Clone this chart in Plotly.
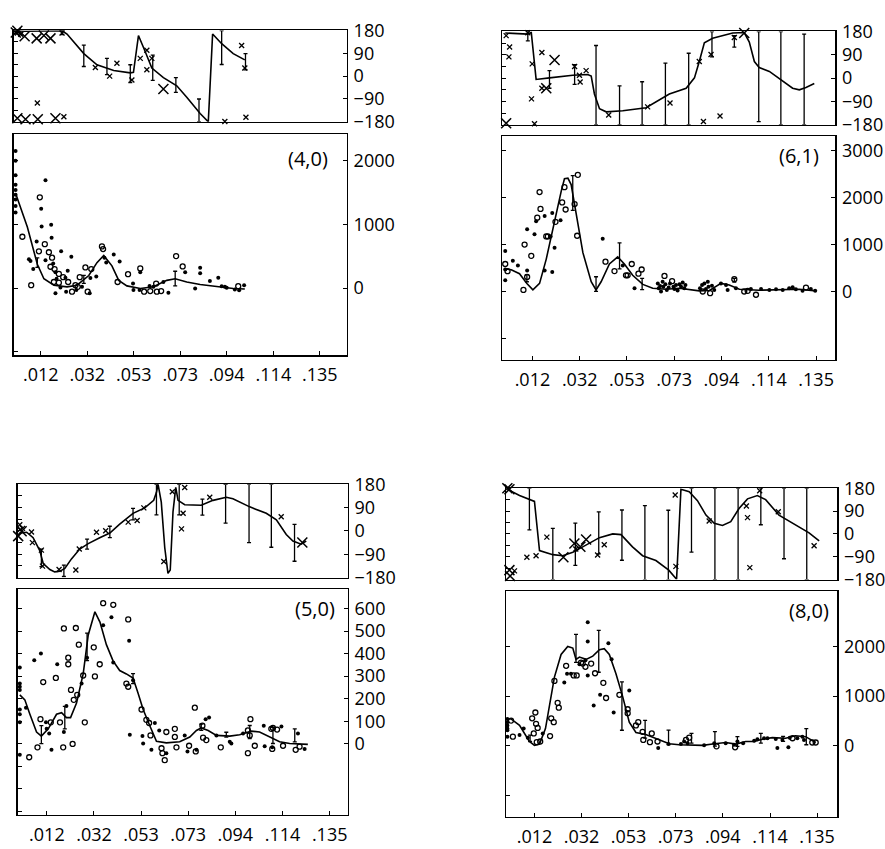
import plotly.graph_objects as go

# ---------------- shared tick definitions ----------------
x_tickvals = [0.0118, 0.0323, 0.0528, 0.0733, 0.0938, 0.1144, 0.1349]
x_ticktext = [".012", ".032", ".053", ".073", ".094", ".114", ".135"]
phase_label_vals = [-180, -90, 0, 90, 180]
phase_minor_vals = [-180, -135, -90, -45, 0, 45, 90, 135, 180]

# ---------------- panel A: (4,0) ----------------
A_label = "(4,0)"
A_xrange = [0.0, 0.1467]
A_amp_range = [-1050, 2411]
A_amp_labels = [0, 1000, 2000]
A_amp_ticks = [-1000, 0, 1000, 2000]

A_amp_curve_x = [0.0007, 0.0059, 0.0103, 0.0132, 0.0176, 0.0234, 0.0278, 0.0330, 0.0366, 0.0396, 0.0432,
                 0.0462, 0.0498, 0.0557, 0.0615, 0.0674, 0.0711, 0.0762, 0.0821, 0.0894, 0.0967, 0.1018]
A_amp_curve_y = [1490, 958, 375, 147, 46, 20, 46, 198, 400, 512, 350, 122, 35, -5, 20, 122, 147, 96, 56, 20, -5, -15]
A_amp_err_x = [0.0103, 0.0308, 0.0711]
A_amp_err_y = [400, 137, 150]
A_amp_err = [75, 63, 115]
A_amp_open_x = [0.0037, 0.0076, 0.0110, 0.0114, 0.0136, 0.0154, 0.0161, 0.0168, 0.0179, 0.0176, 0.0198, 0.0198,
                0.0217, 0.0239, 0.0256, 0.0271, 0.0281, 0.0290, 0.0315, 0.0325, 0.0341, 0.0388, 0.0393, 0.0457,
                0.0503, 0.0557, 0.0574, 0.0601, 0.0627, 0.0630, 0.0649, 0.0715, 0.0744, 0.0989]
A_amp_open_y = [806, 46, 578, 1425, 690, 563, 335, 477, 299, 96, 223, 86,
                172, 96, -56, 46, 20, 172, 324, -56, 299, 654, 613, 96,
                218, 309, -56, -46, 71, -56, -46, 502, 340, 30]
A_amp_fill_x = [0.0007, 0.0007, 0.0007, 0.0007, 0.0007, 0.0007, 0.0007, 0.0007, 0.0007,
                0.0066, 0.0073, 0.0085, 0.0100, 0.0120, 0.0122, 0.0139, 0.0139, 0.0164, 0.0166, 0.0173,
                0.0183, 0.0188, 0.0183, 0.0205, 0.0208, 0.0227, 0.0230, 0.0237, 0.0253, 0.0275, 0.0300,
                0.0334, 0.0337, 0.0363, 0.0399, 0.0407, 0.0440, 0.0466, 0.0525, 0.0527, 0.0554, 0.0557,
                0.0598, 0.0615, 0.0659, 0.0681, 0.0755, 0.0799, 0.0821, 0.0821, 0.0864, 0.0901, 0.0916,
                0.0930, 0.0938, 0.0974, 0.0993, 0.1015]
A_amp_fill_y = [2150, 2000, 1770, 1620, 1540, 1465, 1390, 1290, 1185,
                451, 426, 299, 730, 1247, 968, 1693, 436, 994, 791, 385,
                248, 147, -81, 10, 578, 162, -56, 274, 492, -30, 20,
                -81, 157, 183, 477, 400, 527, 416, 71, -30, -30, 248,
                35, 20, 96, -71, 248, -5, 319, 233, 112, 162, 30,
                20, 5, -20, -35, 46]

A_ph_curve_x = [0.0007, 0.0047, 0.0212, 0.0234, 0.0308, 0.0366, 0.0440, 0.0513, 0.0527, 0.0549, 0.0579,
                0.0608, 0.0659, 0.0718, 0.0762, 0.0821, 0.0857, 0.0876, 0.0916, 0.0967, 0.1018]
A_ph_curve_y = [179, 177, 179, 166, 89, 45, 22, 13, 15, 160, 96, 32, -6, -38, -83, -147, -180, 166, 128, 89, 64]
A_ph_err_x = [0.0212, 0.0308, 0.0410, 0.0513, 0.0612, 0.0714, 0.0816, 0.0916, 0.1021]
A_ph_err_y = [172, 80, 38, 10, 33, -35, -135, 113, 57]
A_ph_err = [8, 42, 32, 35, 50, 29, 45, 67, 32]
A_ph_small_x = [0.0212, 0.0103, 0.0220, 0.0359, 0.0422, 0.0454, 0.0520, 0.0557, 0.0586, 0.0608, 0.0586,
                0.0930, 0.1004, 0.1018, 0.1023, 0.0015, 0.0030]
A_ph_small_y = [170, -106, -160, 34, 0, 51, -15, 70, 102, 70, 25, -179, 121, 32, -162, 170, 165]
A_ph_big_x = [0.0015, 0.0047, 0.0100, 0.0132, 0.0161, 0.0015, 0.0051, 0.0105, 0.0183, 0.0659, 0.0008]
A_ph_big_y = [179, 157, 149, 160, 149, -166, -170, -170, -166, -51, 172]

# ---------------- panel B: (6,1) ----------------
B_label = "(6,1)"
B_xrange = [-0.0012, 0.1431]
B_amp_range = [-1450, 3310]
B_amp_labels = [0, 1000, 2000, 3000]
B_amp_ticks = [-1000, 0, 1000, 2000, 3000]

B_amp_curve_x = [0.0, 0.0026, 0.0062, 0.0094, 0.0120, 0.0149, 0.0178, 0.0214, 0.0243, 0.0257, 0.0272, 0.0286,
                 0.0308, 0.0337, 0.0373, 0.0394, 0.0416, 0.0452, 0.0488, 0.0517, 0.0553, 0.0597, 0.0640,
                 0.0698, 0.0756, 0.0842, 0.0886, 0.0936, 0.0972, 0.1016, 0.1102, 0.1189, 0.1276, 0.1348]
B_amp_curve_y = [490, 469, 386, 179, 41, 179, 697, 1525, 2146, 2408, 2422, 2284,
                 1663, 835, 214, 41, 214, 593, 745, 593, 352, 159, 76,
                 55, 76, 21, 28, 179, 145, 55, 35, 41, 55, 21]
B_amp_err_x = [0.0094, 0.0293, 0.0394, 0.0496, 0.0594, 0.0994]
B_amp_err_y = [290, 2104, 166, 766, 166, 248]
B_amp_err = [75, 370, 155, 276, 120, 40]
B_amp_open_x = [0.0, 0.0010, 0.0079, 0.0084, 0.0095, 0.0113, 0.0139, 0.0149, 0.0153, 0.0178, 0.0185, 0.0218,
                0.0247, 0.0257, 0.0262, 0.0301, 0.0315, 0.0312, 0.0435, 0.0474, 0.0524, 0.0531, 0.0549,
                0.0578, 0.0592, 0.0691, 0.0724, 0.0857, 0.0889, 0.0994, 0.1037, 0.1052, 0.1088, 0.1305]
B_amp_open_y = [593, 440, 41, 1007, 317, 766, 1580, 2125, 1766, 1180, 1180, 1490,
                1904, 2229, 1753, 1870, 2491, 1194, 642, 442, 352, 352, 593,
                386, 476, 338, 228, 7, -28, 269, 7, 21, -62, 90]
B_amp_fill_x = [0.0, 0.0, 0.0, 0.0033, 0.0055, 0.0095, 0.0095, 0.0127, 0.0134, 0.0171, 0.0171, 0.0197,
                0.0204, 0.0204, 0.0214, 0.0240, 0.0423, 0.0510, 0.0561,
                0.0662, 0.0666, 0.0672, 0.0676, 0.0683, 0.0686, 0.0695, 0.0701, 0.0709, 0.0715, 0.0730,
                0.0734, 0.0741, 0.0748, 0.0756, 0.0763, 0.0770, 0.0777, 0.0782,
                0.0845, 0.0854, 0.0864, 0.0871, 0.0879, 0.0882, 0.0897, 0.0907,
                0.0936, 0.0958, 0.0965, 0.1001, 0.1066, 0.1110, 0.1146, 0.1175, 0.1204, 0.1232, 0.1247,
                0.1261, 0.1290, 0.1326, 0.1345]
B_amp_fill_y = [869, 476, 248, 662, 559, 1332, 455, 1228, 1504, 1614, 455, 1180,
                1677, 421, 938, 1525, 1132, 559, 76,
                179, 76, 124, 7, 214, 110, 159, 41, 90, 179, 110,
                62, 145, 28, 159, 110, 200, 76, 145,
                76, 145, 179, 62, 214, 110, 131, 41,
                179, 145, 41, 76, 62, 62, 41, 55, 41, 76, 97,
                55, 21, 62, 21]

B_ph_curve_x = [0.0, 0.0098, 0.0113, 0.0134, 0.0192, 0.0293, 0.0358, 0.0373, 0.0387, 0.0409, 0.0438, 0.0510,
                0.0611, 0.0655, 0.0712, 0.0785, 0.0821, 0.0842, 0.0864, 0.0900, 0.0987, 0.1037, 0.1059,
                0.1081, 0.1102, 0.1146, 0.1204, 0.1247, 0.1276, 0.1305, 0.1341]
B_ph_curve_y = [174, 170, 176, -5, 1, 11, 14, 8, -61, -118, -130, -126,
                -114, -92, -61, -39, 1, 64, 136, 154, 174, 176, 139,
                64, 41, 26, -11, -39, -45, -36, -21]
B_ph_err_x = [0.0098, 0.0192, 0.0301, 0.0394, 0.0496, 0.0594, 0.0695, 0.0796, 0.0897, 0.0994, 0.1100, 0.1196, 0.1297]
B_ph_err_y = [162, -5, 14, -27, -105, -97, -61, -42, 131, 142, 6, 0, -5]
B_ph_err = [18, 34, 38, 153, 75, 83, 119, 138, 49, 22, 174, 180, 175]
B_ph_small_x = [0.0004, 0.0019, 0.0016, 0.0117, 0.0114, 0.0127, 0.0159, 0.0159, 0.0301, 0.0322, 0.0325,
                0.0351, 0.0449, 0.0618, 0.0715, 0.0842, 0.0860, 0.0893, 0.0932, 0.0994, 0.0098]
B_ph_small_y = [164, 120, 82, 55, -80, -176, 99, -39, 45, 11, -15, 29, -142, -111, -96, 64, -167, 91, -146,
                157, 175]
B_ph_big_x = [0.0004, 0.0214, 0.0178, 0.1037]
B_ph_big_y = [-174, 70, -39, 174]

# ---------------- panel C: (5,0) ----------------
C_label = "(5,0)"
C_xrange = [-0.0008, 0.1427]
C_amp_range = [-315, 686]
C_amp_labels = [0, 100, 200, 300, 400, 500, 600]
C_amp_ticks = [-300, -200, -100, 0, 100, 200, 300, 400, 500, 600]

C_amp_curve_x = [0.0, 0.0022, 0.0044, 0.0073, 0.0094, 0.0124, 0.0160, 0.0182, 0.0203, 0.0221, 0.0247, 0.0276,
                 0.0298, 0.0327, 0.0349, 0.0377, 0.0406, 0.0435, 0.0464, 0.0493, 0.0515, 0.0537, 0.0566,
                 0.0595, 0.0638, 0.0696, 0.0740, 0.0769, 0.0790, 0.0820, 0.0856, 0.0914, 0.0957, 0.1008,
                 0.1044, 0.1088, 0.1131, 0.1175, 0.1218, 0.1254]
C_amp_curve_y = [217, 195, 131, 52, 34, 66, 131, 138, 116, 116, 181, 310,
                 483, 586, 540, 440, 368, 325, 310, 292, 224, 152, 80,
                 11, 4, 9, 30, 59, 70, 59, 37, 34, 40, 56,
                 52, 30, 9, 1, 0, -3]
C_amp_err_x = [0.0094, 0.0196, 0.0293, 0.0493, 0.0790, 0.0899, 0.1001, 0.1102, 0.1197]
C_amp_err_y = [40, 116, 430, 289, 73, 40, 52, 37, 37]
C_amp_err = [40, 50, 61, 22, 14, 11, 29, 36, 29]
C_amp_open_x = [0.0041, 0.0077, 0.0090, 0.0102, 0.0135, 0.0157, 0.0175, 0.0189, 0.0192, 0.0211, 0.0211,
                0.0223, 0.0230, 0.0235, 0.0244, 0.0250, 0.0257, 0.0276, 0.0283, 0.0322, 0.0327, 0.0348,
                0.0363, 0.0407, 0.0472, 0.0464, 0.0472, 0.0530, 0.0551, 0.0563, 0.0569, 0.0617, 0.0621,
                0.0631, 0.0638, 0.0675, 0.0675, 0.0682, 0.0737, 0.0762, 0.0766, 0.0795, 0.0798, 0.0812,
                0.0875, 0.0993, 0.0993, 0.1004, 0.1001, 0.1023, 0.1095, 0.1102, 0.1099, 0.1120, 0.1146,
                0.1201, 0.1218]
C_amp_open_y = [-60, -16, 109, 274, 95, 292, 95, -16, 512, 382, 353,
                239, -1, 195, 514, 217, 440, 303, 95, 428, 299, 353,
                624, 617, 552, 267, 253, 152, 106, 92, 37, -20, -42,
                -73, 52, 66, 30, -16, -9, 160, -34, 80, 27, 16,
                -16, 59, -42, 109, 37, -9, 66, 70, -23, 63, -9,
                -27, -13]
C_amp_fill_x = [0.0, 0.0, 0.0, 0.0, 0.0, 0.0, 0.0, 0.0, 0.0027, 0.0063, 0.0092, 0.0114, 0.0117, 0.0128,
                0.0138, 0.0163, 0.0192, 0.0203, 0.0269, 0.0293, 0.0363, 0.0399, 0.0407, 0.0476, 0.0479,
                0.0493, 0.0534, 0.0537, 0.0573, 0.0588, 0.0607, 0.0638, 0.0718, 0.0730, 0.0769, 0.0809,
                0.0824, 0.0856, 0.0914, 0.0921, 0.0972, 0.1062, 0.1066, 0.1099, 0.1139, 0.1211, 0.1240]
C_amp_fill_y = [339, 267, 253, 239, 152, 131, 95, -49, 160, 371, 401, 95, 66, 45,
                -27, 353, 52, 167, 267, 382, 526, 562, 361, 457, 40,
                282, 34, 1, -27, 92, 59, -42, 37, -34, -27, 109,
                116, 37, 9, 1, 45, 80, -11, -16, 76, 45, -23]

C_ph_curve_x = [0.0, 0.0030, 0.0058, 0.0087, 0.0102, 0.0131, 0.0152, 0.0174, 0.0196, 0.0225, 0.0261, 0.0298,
                0.0348, 0.0392, 0.0435, 0.0493, 0.0544, 0.0583, 0.0595, 0.0602, 0.0616, 0.0631, 0.0645,
                0.0655, 0.0667, 0.0679, 0.0689, 0.0718, 0.0790, 0.0841, 0.0899, 0.0928, 0.1001, 0.1073,
                0.1117, 0.1160, 0.1189, 0.1225, 0.1247]
C_ph_curve_y = [-8, -5, -26, -76, -126, -149, -158, -156, -145, -108, -70, -49,
                -26, -8, 26, 68, 89, 118, 149, 180, 111, -64, -164,
                -151, 74, 168, 118, 101, 99, 118, 130, 124, 93, 68,
                43, -14, -39, -51, -39]
C_ph_err_x = [0.0094, 0.0192, 0.0293, 0.0392, 0.0493, 0.0595, 0.0694, 0.0795, 0.0896, 0.0998, 0.1095, 0.1196]
C_ph_err_y = [-104, -154, -51, -4, 65, 121, 121, 92, 105, 68, 59, -46]
C_ph_err = [34, 22, 19, 22, 22, 59, 59, 31, 75, 113, 122, 71]
C_ph_small_x = [0.0, 0.0003, 0.0012, 0.0051, 0.0055, 0.0094, 0.0099, 0.0171, 0.0244, 0.0259, 0.0334, 0.0374,
                0.0472, 0.0511, 0.0540, 0.0627, 0.0664, 0.0711, 0.0704, 0.0718, 0.0827, 0.1138]
C_ph_small_y = [24, 6, 10, -4, -45, -74, -136, -149, -151, -70, -5, 1,
                34, 40, 89, -118, 151, 68, 8, 168, 130, 55]
C_ph_big_x = [-0.0007, 0.0008, 0.1230]
C_ph_big_y = [-20, -1, -45]

# ---------------- panel D: (8,0) ----------------
D_label = "(8,0)"
D_xrange = [-0.0004, 0.1436]
D_amp_range = [-1431, 3118]
D_amp_labels = [0, 1000, 2000]
D_amp_ticks = [-1000, 0, 1000, 2000]

D_amp_curve_x = [0.0, 0.0016, 0.0053, 0.0096, 0.0118, 0.0140, 0.0166, 0.0186, 0.0205, 0.0234, 0.0263, 0.0285,
                 0.0299, 0.0314, 0.0343, 0.0372, 0.0401, 0.0422, 0.0444, 0.0473, 0.0502, 0.0531, 0.0560,
                 0.0603, 0.0647, 0.0705, 0.0748, 0.0806, 0.0850, 0.0894, 0.0951, 0.0995, 0.1038, 0.1075,
                 0.1111, 0.1154, 0.1212, 0.1255, 0.1299, 0.1343]
D_amp_curve_y = [540, 540, 410, 85, 7, 33, 345, 865, 1385, 1840, 2002, 1970,
                 1742, 1788, 1742, 1807, 1937, 1957, 1840, 1450, 995, 475, 267,
                 228, 150, 39, 20, 20, 7, 33, 65, 33, 85, 85,
                 130, 163, 150, 202, 182, 65]
D_amp_err_x = [0.0099, 0.0299, 0.0398, 0.0499, 0.0600, 0.0702, 0.0802, 0.0904, 0.1002, 0.1104, 0.1201, 0.1302]
D_amp_err_y = [150, 1963, 1905, 800, 332, 169, 150, 137, 85, 150, 137, 182]
D_amp_err = [65, 283, 423, 488, 180, 146, 98, 146, 98, 98, 50, 163]
D_amp_open_x = [0.0016, 0.0024, 0.0108, 0.0115, 0.0122, 0.0125, 0.0132, 0.0128, 0.0143, 0.0186, 0.0191,
                0.0202, 0.0205, 0.0219, 0.0224, 0.0256, 0.0289, 0.0302, 0.0321, 0.0328, 0.0340, 0.0365,
                0.0382, 0.0418, 0.0430, 0.0488, 0.0524, 0.0524, 0.0560, 0.0570, 0.0589, 0.0592, 0.0621,
                0.0629, 0.0654, 0.0778, 0.0792, 0.0911, 0.0992, 0.1242, 0.1328, 0.1343]
D_amp_open_y = [507, 182, 553, 247, 670, 442, 358, 72, 85, 195, 553,
                475, 1307, 865, 767, 1612, 1417, 1417, 1677, 1657, 1592, 1657,
                1462, 1268, 962, 1027, 735, 657, 410, 475, 280, 117, 72,
                247, 85, 117, 162, -13, -32, 150, 65, 65]
D_amp_fill_x = [0.0, 0.0, 0.0, 0.0, 0.0, 0.0, 0.0053, 0.0071, 0.0089, 0.0154, 0.0248, 0.0260, 0.0277,
                0.0314, 0.0340, 0.0350, 0.0350, 0.0350, 0.0376, 0.0404, 0.0440, 0.0454, 0.0463, 0.0531,
                0.0657, 0.0702, 0.0756, 0.0770, 0.0785, 0.0857, 0.0901, 0.0951, 0.0987, 0.1002, 0.1027,
                0.1075, 0.1089, 0.1118, 0.1133, 0.1169, 0.1176, 0.1198, 0.1224, 0.1230, 0.1263, 0.1285,
                0.1292]
D_amp_fill_y = [540, 475, 410, 345, 312, 182, 215, 345, 162, 247, 1274, 1450, 1450,
                1645, 1722, 2490, 2100, 1417, 812, 1027, 2067, 1742, 670, 1112,
                -45, 33, 33, 85, 52, 7, 52, 52, 20, 85, 52,
                98, 130, 150, 150, 137, -45, 117, -32, 163, 150, 182,
                117]

D_ph_curve_x = [0.0, 0.0053, 0.0118, 0.0140, 0.0198, 0.0241, 0.0285, 0.0343, 0.0401, 0.0459, 0.0495, 0.0545,
                0.0589, 0.0647, 0.0703, 0.0737, 0.0756, 0.0792, 0.0828, 0.0865, 0.0901, 0.0937, 0.0973,
                0.1009, 0.1046, 0.1089, 0.1125, 0.1183, 0.1256, 0.1314, 0.1358]
D_ph_curve_y = [176, 151, 128, -66, -82, -86, -73, -43, -15, 0, -3, -51,
                -86, -105, -143, -179, 176, 166, 131, 74, 42, 33, 48,
                100, 138, 151, 135, 74, 36, 4, -28]
D_ph_err_x = [0.0096, 0.0198, 0.0296, 0.0398, 0.0499, 0.0599, 0.0701, 0.0802, 0.0904, 0.1005, 0.1104, 0.1205, 0.1304]
D_ph_err_y = [98, -79, -41, 4, -5, -35, -44, 54, 0, 0, 108, 41, 0]
D_ph_err = [82, 101, 83, 83, 99, 146, 137, 126, 180, 180, 72, 139, 180]
D_ph_small_x = [0.0031, 0.0085, 0.0125, 0.0172, 0.0298, 0.0393, 0.0422, 0.0731, 0.0734, 0.0879, 0.1041,
                0.1046, 0.1056, 0.1099, 0.1180, 0.1336]
D_ph_small_y = [-146, -92, -86, -13, -60, -83, -43, 153, -128, 51, 110, 64, -133, 170, 87, -47]
D_ph_big_x = [0.0, 0.0009, 0.0009, 0.0012, 0.0244, 0.0292, 0.0318, 0.0343]
D_ph_big_y = [180, 176, -143, -166, -92, -38, -51, -22]

# ---------------- layout geometry (paper fractions) ----------------
panels = [
    dict(label=A_label, xr=A_xrange, ar=A_amp_range, alab=A_amp_labels, atk=A_amp_ticks,
         xdom=[0.0158, 0.3921], phdom=[0.8681, 0.9788], amdom=[0.5854, 0.8528], lab_pos=(0.949, 0.89),
         acx=A_amp_curve_x, acy=A_amp_curve_y, aex=A_amp_err_x, aey=A_amp_err_y, ae=A_amp_err,
         aox=A_amp_open_x, aoy=A_amp_open_y, afx=A_amp_fill_x, afy=A_amp_fill_y,
         pcx=A_ph_curve_x, pcy=A_ph_curve_y, pex=A_ph_err_x, pey=A_ph_err_y, pe=A_ph_err,
         psx=A_ph_small_x, psy=A_ph_small_y, pbx=A_ph_big_x, pby=A_ph_big_y),
    dict(label=B_label, xr=B_xrange, ar=B_amp_range, alab=B_amp_labels, atk=B_amp_ticks,
         xdom=[0.5684, 0.9446], phdom=[0.8645, 0.9776], amdom=[0.5795, 0.8504], lab_pos=(0.958, 0.913),
         acx=B_amp_curve_x, acy=B_amp_curve_y, aex=B_amp_err_x, aey=B_amp_err_y, ae=B_amp_err,
         aox=B_amp_open_x, aoy=B_amp_open_y, afx=B_amp_fill_x, afy=B_amp_fill_y,
         pcx=B_ph_curve_x, pcy=B_ph_curve_y, pex=B_ph_err_x, pey=B_ph_err_y, pe=B_ph_err,
         psx=B_ph_small_x, psy=B_ph_small_y, pbx=B_ph_big_x, pby=B_ph_big_y),
    dict(label=C_label, xr=C_xrange, ar=C_amp_range, alab=C_amp_labels, atk=C_amp_ticks,
         xdom=[0.0203, 0.3932], phdom=[0.3157, 0.4287], amdom=[0.0283, 0.3015], lab_pos=(0.967, 0.914),
         acx=C_amp_curve_x, acy=C_amp_curve_y, aex=C_amp_err_x, aey=C_amp_err_y, ae=C_amp_err,
         aox=C_amp_open_x, aoy=C_amp_open_y, afx=C_amp_fill_x, afy=C_amp_fill_y,
         pcx=C_ph_curve_x, pcy=C_ph_curve_y, pex=C_ph_err_x, pey=C_ph_err_y, pe=C_ph_err,
         psx=C_ph_small_x, psy=C_ph_small_y, pbx=C_ph_big_x, pby=C_ph_big_y),
    dict(label=D_label, xr=D_xrange, ar=D_amp_range, alab=D_amp_labels, atk=D_amp_ticks,
         xdom=[0.5729, 0.9469], phdom=[0.3133, 0.4240], amdom=[0.0259, 0.2992], lab_pos=(0.982, 0.914),
         acx=D_amp_curve_x, acy=D_amp_curve_y, aex=D_amp_err_x, aey=D_amp_err_y, ae=D_amp_err,
         aox=D_amp_open_x, aoy=D_amp_open_y, afx=D_amp_fill_x, afy=D_amp_fill_y,
         pcx=D_ph_curve_x, pcy=D_ph_curve_y, pex=D_ph_err_x, pey=D_ph_err_y, pe=D_ph_err,
         psx=D_ph_small_x, psy=D_ph_small_y, pbx=D_ph_big_x, pby=D_ph_big_y),
]

FONT = "Open Sans"
TICKFONT = dict(family=FONT, size=18, color="black")
fig = go.Figure()
layout = dict(width=885, height=849, margin=dict(l=0, r=0, t=0, b=0),
              paper_bgcolor="white", plot_bgcolor="white", showlegend=False,
              font=dict(family=FONT, color="black"))
annotations = []


def add_traces(xn, yn, cx, cy, ex, ey, ee, s1x, s1y, s2x, s2y, kind):
    xa, ya = "x%d" % xn, "y%d" % yn
    fig.add_trace(go.Scatter(x=cx, y=cy, mode="lines", line=dict(color="black", width=1.6),
                             xaxis=xa, yaxis=ya, cliponaxis=False, hoverinfo="skip"))
    fig.add_trace(go.Scatter(x=ex, y=ey, mode="markers", marker=dict(size=1, color="rgba(0,0,0,0)"),
                             error_y=dict(type="data", array=ee, color="black", thickness=1.3, width=2),
                             xaxis=xa, yaxis=ya, cliponaxis=False, hoverinfo="skip"))
    if kind == "amp":
        fig.add_trace(go.Scatter(x=s1x, y=s1y, mode="markers",
                                 marker=dict(symbol="circle-open", size=5, color="black", line=dict(width=1.3)),
                                 xaxis=xa, yaxis=ya, cliponaxis=False, hoverinfo="skip"))
        fig.add_trace(go.Scatter(x=s2x, y=s2y, mode="markers",
                                 marker=dict(symbol="circle", size=4, color="black"),
                                 xaxis=xa, yaxis=ya, cliponaxis=False, hoverinfo="skip"))
    else:
        fig.add_trace(go.Scatter(x=s1x, y=s1y, mode="markers",
                                 marker=dict(symbol="x-thin-open", size=5, color="black",
                                             line=dict(width=1.3, color="black")),
                                 xaxis=xa, yaxis=ya, cliponaxis=False, hoverinfo="skip"))
        fig.add_trace(go.Scatter(x=s2x, y=s2y, mode="markers",
                                 marker=dict(symbol="x-thin-open", size=10, color="black",
                                             line=dict(width=1.5, color="black")),
                                 xaxis=xa, yaxis=ya, cliponaxis=False, hoverinfo="skip"))


for i, p in enumerate(panels):
    ph_n = 2 * i + 1
    am_n = 2 * i + 2
    layout["xaxis%d" % ph_n] = dict(domain=p["xdom"], range=p["xr"], anchor="y%d" % ph_n,
                                    showline=True, linecolor="black", linewidth=1.5, mirror=True,
                                    ticks="", showticklabels=False, showgrid=False, zeroline=False)
    layout["yaxis%d" % ph_n] = dict(domain=p["phdom"], range=[-180, 180], anchor="x%d" % ph_n,
                                    showline=True, linecolor="black", linewidth=1.5, mirror=True,
                                    tickmode="array", tickvals=phase_minor_vals, ticks="inside", ticklen=4,
                                    tickcolor="black", showticklabels=False, showgrid=False, zeroline=False)
    layout["xaxis%d" % am_n] = dict(domain=p["xdom"], range=p["xr"], anchor="y%d" % am_n,
                                    showline=True, linecolor="black", linewidth=1.5, mirror=True,
                                    tickmode="array", tickvals=x_tickvals, ticktext=x_ticktext,
                                    ticks="inside", ticklen=4, tickcolor="black", tickfont=TICKFONT,
                                    ticklabelstandoff=3, showgrid=False, zeroline=False)
    layout["yaxis%d" % am_n] = dict(domain=p["amdom"], range=p["ar"], anchor="x%d" % am_n,
                                    showline=True, linecolor="black", linewidth=1.5, mirror=True,
                                    tickmode="array", tickvals=p["atk"], ticks="inside", ticklen=4,
                                    tickcolor="black", showticklabels=False, showgrid=False, zeroline=False)
    r_ph = 9 + 2 * i
    r_am = 10 + 2 * i
    layout["yaxis%d" % r_ph] = dict(overlaying="y%d" % ph_n, side="right", range=[-180, 180],
                                    anchor="x%d" % ph_n, showline=False, tickmode="array",
                                    tickvals=phase_label_vals, ticks="inside", ticklen=4, tickcolor="black",
                                    tickfont=TICKFONT, ticklabelstandoff=6, showgrid=False, zeroline=False)
    layout["yaxis%d" % r_am] = dict(overlaying="y%d" % am_n, side="right", range=p["ar"],
                                    anchor="x%d" % am_n, showline=False, tickmode="array",
                                    tickvals=p["alab"], ticks="inside", ticklen=4, tickcolor="black",
                                    tickfont=TICKFONT, ticklabelstandoff=6, showgrid=False, zeroline=False)
    fig.add_trace(go.Scatter(x=[], y=[], xaxis="x%d" % ph_n, yaxis="y%d" % r_ph, hoverinfo="skip"))
    fig.add_trace(go.Scatter(x=[], y=[], xaxis="x%d" % am_n, yaxis="y%d" % r_am, hoverinfo="skip"))

    add_traces(ph_n, ph_n, p["pcx"], p["pcy"], p["pex"], p["pey"], p["pe"],
               p["psx"], p["psy"], p["pbx"], p["pby"], "phase")
    add_traces(am_n, am_n, p["acx"], p["acy"], p["aex"], p["aey"], p["ae"],
               p["aox"], p["aoy"], p["afx"], p["afy"], "amp")

    annotations.append(dict(text=p["label"], xref="x%d domain" % am_n, yref="y%d domain" % am_n,
                            x=p["lab_pos"][0], y=p["lab_pos"][1], xanchor="right", yanchor="middle",
                            showarrow=False, font=dict(family=FONT, size=20, color="black")))

layout["annotations"] = annotations
fig.update_layout(**layout)
fig.write_html("out.html", config={"displayModeBar": False, "staticPlot": True})

# remove the default page margin so the 885x849 figure fills the window exactly
with open("out.html", "r", encoding="utf-8") as fh:
    html = fh.read()
html = html.replace("<head>", "<head><style>html,body{margin:0;padding:0;overflow:hidden;}</style>", 1)
with open("out.html", "w", encoding="utf-8") as fh:
    fh.write(html)
